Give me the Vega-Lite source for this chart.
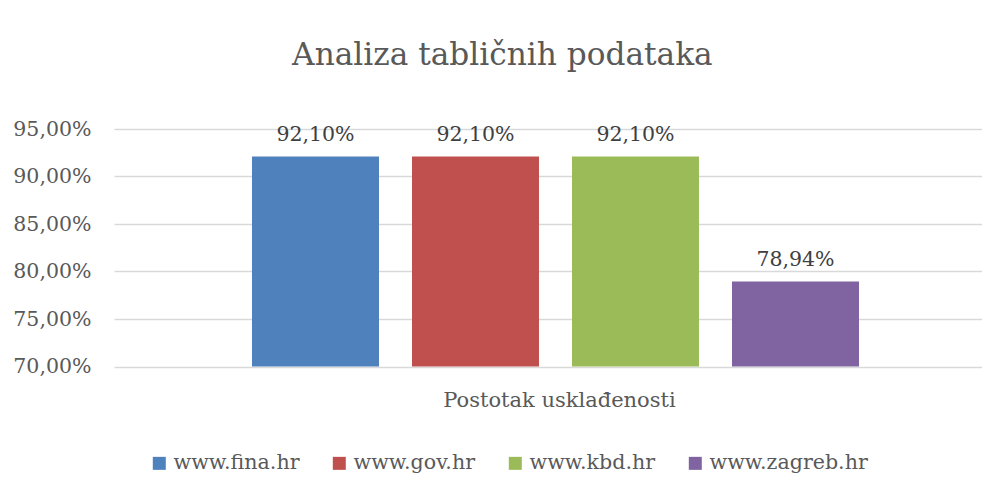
{
  "$schema": "https://vega.github.io/schema/vega-lite/v6.json",
  "autosize": {"type": "none"},
  "padding": {"left": 114, "top": 129, "right": 0, "bottom": 128.5},
  "width": 868,
  "height": 237.5,
  "background": "white",
  "title": {
    "text": "Analiza tabličnih podataka",
    "font": "DejaVu Serif",
    "fontSize": 31.2,
    "fontWeight": "normal",
    "color": "#595959",
    "anchor": "middle",
    "frame": "group",
    "dx": -45.6,
    "baseline": "alphabetic",
    "offset": 23
  },
  "config": {
    "view": {"stroke": null},
    "locale": {
      "number": {"decimal": ",", "thousands": ".", "grouping": [3], "currency": ["", " kn"]}
    }
  },
  "data": {
    "values": [
      {"site": "www.fina.hr", "value": 0.921},
      {"site": "www.gov.hr", "value": 0.921},
      {"site": "www.kbd.hr", "value": 0.921},
      {"site": "www.zagreb.hr", "value": 0.7894}
    ]
  },
  "encoding": {
    "x": {
      "field": "site",
      "type": "nominal",
      "sort": ["www.fina.hr", "www.gov.hr", "www.kbd.hr", "www.zagreb.hr"],
      "scale": {"paddingInner": 0.20625, "paddingOuter": 0.8156, "align": 0.5287},
      "axis": {
        "labels": false,
        "ticks": false,
        "domain": false,
        "grid": false,
        "title": "Postotak usklađenosti",
        "titleFont": "DejaVu Serif",
        "titleFontSize": 21,
        "titleFontWeight": "normal",
        "titleColor": "#595959",
        "titleX": 445,
        "titleY": 39.5,
        "titleBaseline": "alphabetic",
        "titleAnchor": null
      }
    },
    "y": {
      "field": "value",
      "type": "quantitative",
      "scale": {"domain": [0.7, 0.95], "nice": false, "zero": false},
      "axis": {
        "title": null,
        "format": ".2%",
        "values": [0.7, 0.75, 0.8, 0.85, 0.9, 0.95],
        "domain": false,
        "ticks": false,
        "labelPadding": 23,
        "labelFont": "DejaVu Serif",
        "labelFontSize": 20.5,
        "labelColor": "#595959",
        "gridColor": "#d9d9d9",
        "gridWidth": 1.5
      }
    }
  },
  "layer": [
    {
      "mark": {"type": "bar", "clip": true},
      "encoding": {
        "color": {
          "field": "site",
          "type": "nominal",
          "sort": ["www.fina.hr", "www.gov.hr", "www.kbd.hr", "www.zagreb.hr"],
          "scale": {
            "domain": ["www.fina.hr", "www.gov.hr", "www.kbd.hr", "www.zagreb.hr"],
            "range": ["#4F81BD", "#C0504D", "#9BBB59", "#8064A2"]
          },
          "legend": {
            "title": null,
            "orient": "none",
            "direction": "horizontal",
            "legendX": 35,
            "legendY": 324,
            "symbolType": "square",
            "symbolSize": 169,
            "symbolStrokeWidth": 0,
            "labelFont": "DejaVu Serif",
            "labelFontSize": 20.6,
            "labelColor": "#595959",
            "labelOffset": 4,
            "columnPadding": 29,
            "labelLimit": 300
          }
        }
      }
    },
    {
      "mark": {
        "type": "text",
        "baseline": "alphabetic",
        "dy": -16,
        "font": "DejaVu Serif",
        "fontSize": 20.5,
        "color": "#404040"
      },
      "encoding": {
        "text": {"field": "value", "type": "quantitative", "format": ".2%"}
      }
    }
  ]
}
